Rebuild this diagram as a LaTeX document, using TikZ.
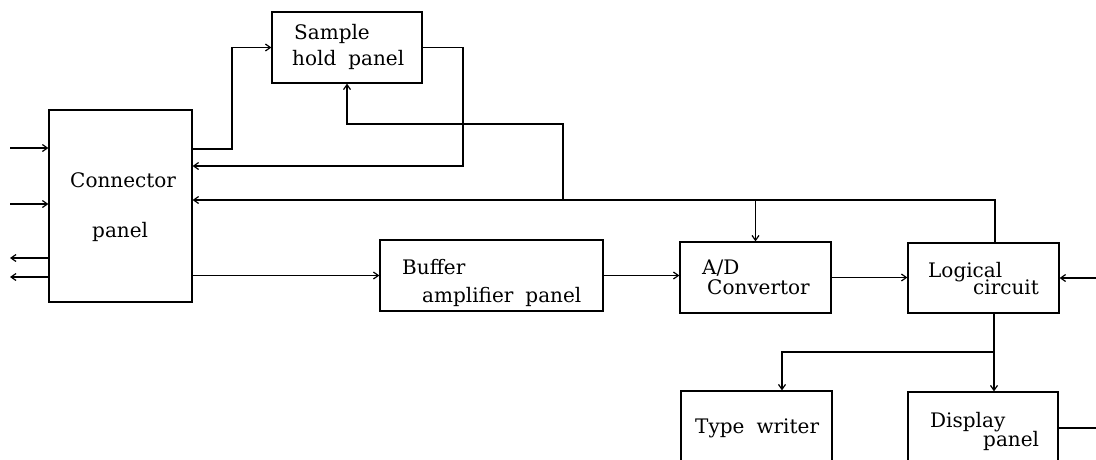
\documentclass[tikz,border=0pt]{standalone}
\usepackage{fontspec}
\setmainfont{DejaVu Serif}[WordSpace=1.9]
\usetikzlibrary{arrows.meta,calc}
\begin{document}
\begin{tikzpicture}[x=1pt,y=-1pt,
  box/.style={draw,line width=1.2pt,inner sep=0pt,minimum width=#1},
  lbl/.style={anchor=base west,inner sep=0pt,font=\fontsize{20}{21}\selectfont},
  wire/.style={line width=1.2pt},
  arr/.style={wire,-{Straight Barb[length=5pt,width=7pt,line width=1.2pt]}}]
\clip (0,0) rectangle (1096,459);
\fill[white] (0,0) rectangle (1096,459);
% boxes
\node[box=143pt,minimum height=192pt] (cp) at (120.5,206) {};
\node[box=150pt,minimum height=71pt] (sh) at (347,47.5) {};
\node[box=223pt,minimum height=71pt] (buf) at (491.5,275.5) {};
\node[box=151pt,minimum height=71pt] (ad) at (755.5,277.5) {};
\node[box=151pt,minimum height=70pt] (lc) at (983.5,278) {};
\node[box=151pt,minimum height=89pt] (tw) at (756.5,435.5) {};
\node[box=150pt,minimum height=89pt] (dp) at (983,436.5) {};
% labels
\node[lbl] (cpa) at (70,187) {Connector};
\node[lbl] (cpb) at (92,237) {panel};
\node[lbl] (sha) at (294,39) {Sample};
\node[lbl] (shb) at (292,65) {hold panel};
\node[lbl] (bufa) at (402,274) {Buffer};
\node[lbl] (bufb) at (422,302) {amplifier panel};
\node[lbl] (ada) at (702,274) {A/D};
\node[lbl] (adb) at (707,294) {Convertor};
\node[lbl] (lca) at (928,277) {Logical};
\node[lbl] (lcb) at (973,294) {circuit};
\node[lbl] (twa) at (695,433) {Type writer};
\node[lbl] (dpa) at (930,427) {Display};
\node[lbl] (dpb) at (983,446) {panel};
% free ends
\coordinate (in1) at (10,148);
\coordinate (in2) at (10,204);
\coordinate (out1) at (10,258);
\coordinate (out2) at (10,277);
\coordinate (j1) at (232,149);
\coordinate (j2) at (463,166);
\coordinate (t1) at (995,200);
\coordinate (t2) at (563,200);
\coordinate (t3) at (563,124);
\coordinate (e1) at (1096,278);
\coordinate (b1) at (994,352);
\coordinate (b2) at (782,352);
\coordinate (e2) at (1096,428);
% connectors
\draw[arr] (in1) -- (in1 -| cp.west);
\draw[arr] (in2) -- (in2 -| cp.west);
\draw[arr] (out1 -| cp.west) -- (out1);
\draw[arr] (out2 -| cp.west) -- (out2);
\draw[arr] (j1 -| cp.east) -- (j1) |- (sh.west);
\draw[arr] (sh.east) -| (j2) -- (j2 -| cp.east);
\draw[arr] (t1 |- lc.north) -- (t1) -- (t1 -| cp.east);
\draw[arr] (t2) -- (t3) -| (sh.south);
\draw[arr] (ad.north |- t1) -- (ad.north);
\draw[arr] (cp.east |- buf.west) -- (buf.west);
\draw[arr] (buf.east) -- (buf.east -| ad.west);
\draw[arr] (ad.east) -- (ad.east -| lc.west);
\draw[arr] (e1) -- (e1 -| lc.east);
\draw[arr] (b1 |- lc.south) -- (b1 |- dp.north);
\draw[arr] (b1) -- (b2) -- (b2 |- tw.north);
\draw[wire] (e2 -| dp.east) -- (e2);
\end{tikzpicture}
\end{document}
